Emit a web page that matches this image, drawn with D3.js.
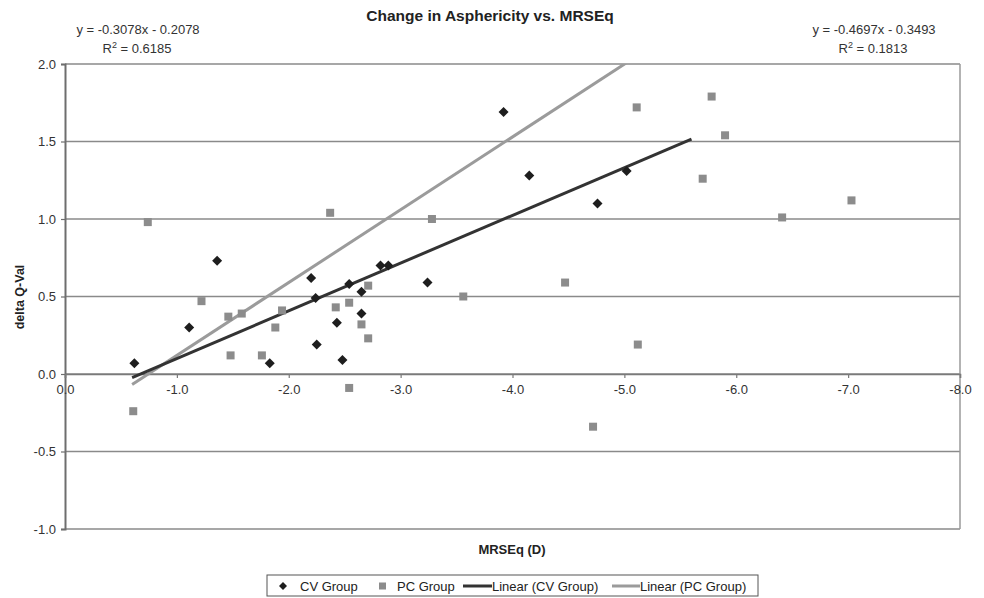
<!DOCTYPE html>
<html><head><meta charset="utf-8">
<script src="https://cdn.jsdelivr.net/npm/d3@7/dist/d3.min.js"></script>
<style>
html,body{margin:0;padding:0;background:#fff;}
svg text{font-family:Arial,"Liberation Sans",sans-serif;}
</style></head>
<body>
<svg id="chart" width="984" height="598"></svg>
<script>
// ---- data ----
const cvX = [-0.62,-1.36,-1.11,-1.83,-2.20,-2.24,-2.25,-2.43,-2.48,-2.54,-2.65,-2.65,-2.82,-2.89,-3.24,-3.92,-4.15,-4.76,-5.02];
const cvY = [0.07,0.73,0.30,0.07,0.62,0.49,0.19,0.33,0.09,0.58,0.53,0.39,0.70,0.70,0.59,1.69,1.28,1.10,1.31];
const pcX = [-0.74,-1.22,-1.46,-1.58,-1.48,-1.76,-1.88,-1.94,-2.37,-2.42,-2.54,-2.54,-2.65,-2.71,-2.71,-3.28,-3.56,-4.47,-5.11,-5.12,-5.78,-5.90,-5.70,-7.03,-6.41,-0.61,-4.72];
const pcY = [0.98,0.47,0.37,0.39,0.12,0.12,0.30,0.41,1.04,0.43,0.46,-0.09,0.32,0.57,0.23,1.00,0.50,0.59,1.72,0.19,1.79,1.54,1.26,1.12,1.01,-0.24,-0.34];
const cvFit = {slope:-0.3078, intercept:-0.2078, r2:0.6185, xFrom:-0.6, xTo:-5.6};
const pcFit = {slope:-0.4697, intercept:-0.3493, r2:0.1813, xFrom:-0.6, xTo:-7.03};
const xTicks = [0,-1,-2,-3,-4,-5,-6,-7,-8];
const yTicks = [-1,-0.5,0,0.5,1,1.5,2];
const title = "Change in Asphericity vs. MRSEq";
const xTitle = "MRSEq (D)";
const yTitle = "delta Q-Val";
const legendLabels = ["CV Group","PC Group","Linear (CV Group)","Linear (PC Group)"];

// ---- drawing ----
const svg = d3.select("#chart");
const L=65, R=960, T=64, B=529;
const x = d3.scaleLinear().domain([0,-8]).range([L,R]);
const y = d3.scaleLinear().domain([-1,2]).range([B,T]);
const fmt = d => d.toFixed(1);

svg.append("text").attr("x",490).attr("y",21).attr("text-anchor","middle")
  .attr("font-size",15.5).attr("font-weight","bold").attr("fill","#222").text(title);

// gridlines
svg.append("g").selectAll("line").data(yTicks).join("line")
  .attr("x1",L).attr("x2",R).attr("y1",d=>y(d)).attr("y2",d=>y(d))
  .attr("stroke","#8a8a8a").attr("stroke-width",1.5);
// right border
svg.append("line").attr("x1",R).attr("x2",R).attr("y1",T).attr("y2",B)
  .attr("stroke","#9a9a9a").attr("stroke-width",1.5);

// y axis
const yAxis = d3.axisLeft(y).tickValues(yTicks).tickFormat(fmt).tickSize(4).tickPadding(5);
const gy = svg.append("g").attr("transform",`translate(${L},0)`).call(yAxis);
gy.select(".domain").attr("stroke","#6e6e6e").attr("stroke-width",2);
gy.selectAll(".tick line").attr("stroke","#6e6e6e").attr("stroke-width",1.2);
gy.selectAll("text").attr("font-size",13).attr("fill","#333").attr("font-family","Arial, Liberation Sans, sans-serif");

// x axis at y=0
const xAxis = d3.axisBottom(x).tickValues(xTicks).tickFormat(fmt).tickSize(4).tickPadding(7);
const gx = svg.append("g").attr("transform",`translate(0,${y(0)})`).call(xAxis);
gx.select(".domain").attr("stroke","#7a7a7a").attr("stroke-width",1.5);
gx.selectAll(".tick line").attr("stroke","#7a7a7a").attr("stroke-width",1.2);
gx.selectAll("text").attr("font-size",13).attr("fill","#333").attr("font-family","Arial, Liberation Sans, sans-serif");

// clip
svg.append("clipPath").attr("id","plotclip").append("rect")
  .attr("x",L).attr("y",T).attr("width",R-L).attr("height",B-T);

// trend lines
function fitLine(f){ return [[f.xFrom, f.slope*f.xFrom+f.intercept],[f.xTo, f.slope*f.xTo+f.intercept]]; }
const line = d3.line().x(d=>x(d[0])).y(d=>y(d[1]));
const gl = svg.append("g").attr("clip-path","url(#plotclip)");

// markers
const pcSize = 8;
svg.append("g").selectAll("rect").data(pcX.map((v,i)=>[v,pcY[i]])).join("rect")
  .attr("x",d=>x(d[0])-pcSize/2).attr("y",d=>y(d[1])-pcSize/2)
  .attr("width",pcSize).attr("height",pcSize).attr("fill","#8c8c8c");
const dm = (r)=>`M0,${-r}L${r},0L0,${r}L${-r},0Z`;
svg.append("g").selectAll("path").data(cvX.map((v,i)=>[v,cvY[i]])).join("path")
  .attr("d",dm(5)).attr("transform",d=>`translate(${x(d[0])},${y(d[1])})`).attr("fill","#1e1e1e");

gl.append("path").attr("d",line(fitLine(pcFit))).attr("stroke","#9b9b9b").attr("stroke-width",3).attr("fill","none");
gl.append("path").attr("d",line(fitLine(cvFit))).attr("stroke","#333").attr("stroke-width",3).attr("fill","none");

// equations
function eqText(f){
  const s = f.intercept<0 ? " - " : " + ";
  return `y = ${f.slope.toFixed(4)}x${s}${Math.abs(f.intercept).toFixed(4)}`;
}
function r2(g, cx, cy, v){
  const t = g.append("text").attr("x",cx).attr("y",cy).attr("text-anchor","middle")
    .attr("font-size",13).attr("fill","#333");
  t.append("tspan").text("R");
  t.append("tspan").attr("dy",-5).attr("font-size",9).text("2");
  t.append("tspan").attr("dy",5).text(" = "+v.toFixed(4));
}
const ge = svg.append("g");
ge.append("text").attr("x",138).attr("y",34).attr("text-anchor","middle").attr("font-size",13).attr("fill","#333").text(eqText(cvFit));
r2(ge,137,53,cvFit.r2);
ge.append("text").attr("x",874).attr("y",34).attr("text-anchor","middle").attr("font-size",13).attr("fill","#333").text(eqText(pcFit));
r2(ge,873,53,pcFit.r2);

// axis titles
svg.append("text").attr("x",512).attr("y",554).attr("text-anchor","middle")
  .attr("font-size",13).attr("font-weight","bold").attr("fill","#222").text(xTitle);
svg.append("text").attr("transform","translate(24,297) rotate(-90)").attr("text-anchor","middle")
  .attr("font-size",12.5).attr("font-weight","bold").attr("fill","#222").text(yTitle);

// legend
const lg = svg.append("g");
lg.append("rect").attr("x",267).attr("y",575).attr("width",491).attr("height",21)
  .attr("fill","#fff").attr("stroke","#555").attr("stroke-width",1);
const ly = 586;
lg.append("path").attr("d",dm(4)).attr("transform",`translate(283,${ly})`).attr("fill","#1e1e1e");
lg.append("rect").attr("x",379).attr("y",ly-3.5).attr("width",7).attr("height",7).attr("fill","#8c8c8c");
lg.append("line").attr("x1",463).attr("x2",492).attr("y1",ly).attr("y2",ly).attr("stroke","#333").attr("stroke-width",3);
lg.append("line").attr("x1",612).attr("x2",640).attr("y1",ly).attr("y2",ly).attr("stroke","#9b9b9b").attr("stroke-width",3);
const lx = [300,397,492,640];
lg.selectAll("text.lt").data(legendLabels).join("text").attr("class","lt")
  .attr("x",(d,i)=>lx[i]).attr("y",ly+4.5).attr("font-size",13).attr("fill","#222").text(d=>d);
</script>
</body></html>
